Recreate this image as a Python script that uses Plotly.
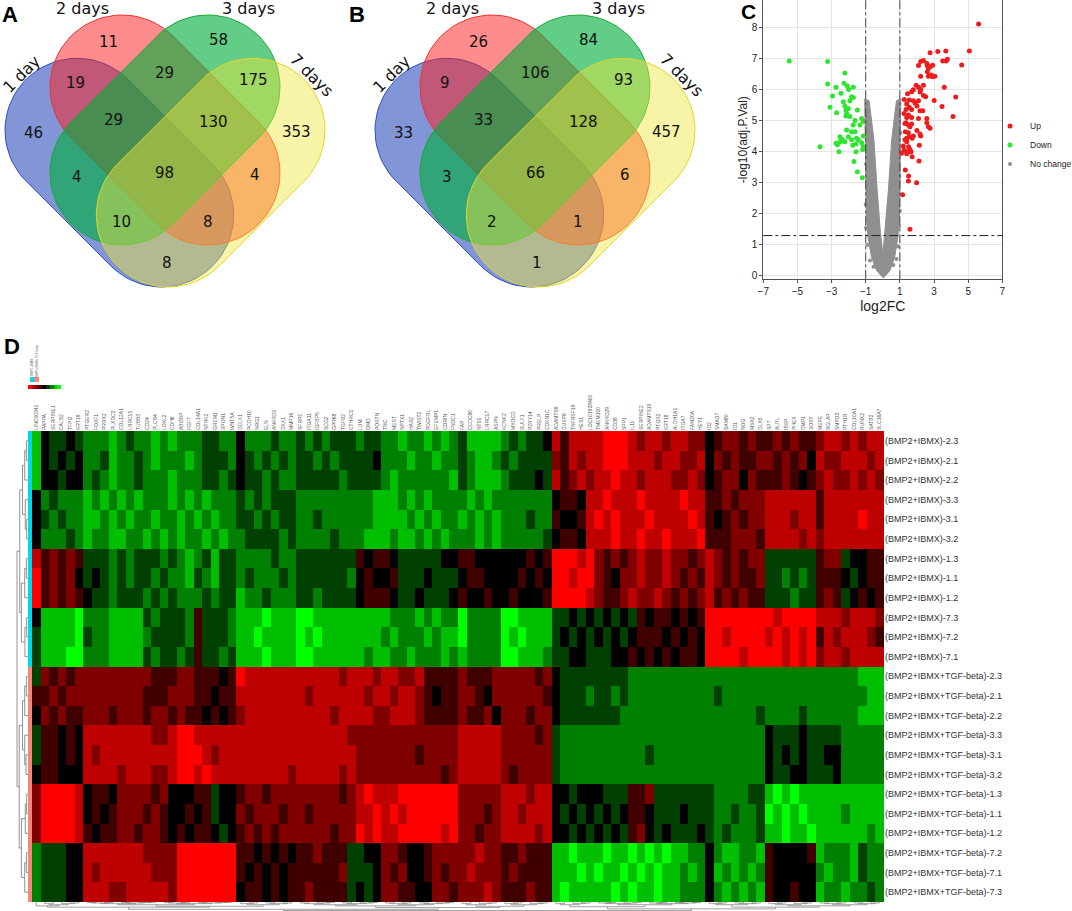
import numpy as np
import plotly.graph_objects as go

W, H = 1072, 911


def px_x(v):
    return v / W


def px_y(v):
    return 1 - v / H


# ---------------- Venn diagrams (A, B) ----------------
SET_NAMES = ["1 day", "2 days", "3 days", "7 days"]
REGIONS = ["1", "2", "3", "4", "12", "23", "34", "123", "234", "13", "1234", "24", "134", "124", "14"]
COUNTS_A = [46, 11, 58, 353, 19, 29, 175, 29, 130, 4, 98, 4, 10, 8, 8]
COUNTS_B = [33, 26, 84, 457, 9, 106, 93, 33, 128, 3, 66, 6, 2, 1, 1]

# ---------------- Volcano plot (C) ----------------
UP_X = [5.61, 5.07, 4.62, 4.27, 4.11, 3.47, 3.60, 3.01, 2.77, 3.22, 3.69, 3.51, 3.71, 3.78, 2.92,
        3.05, 2.92, 2.83, 2.67, 2.61, 2.77, 2.58, 2.67, 2.61, 2.38, 2.22, 2.09, 2.22, 2.38, 1.95,
        2.09, 2.22, 2.18, 1.69, 1.45, 1.26, 1.55, 1.79, 1.90, 2.09, 2.00, 1.55, 1.40, 1.36, 1.69,
        2.18, 2.34, 2.38, 2.58, 1.40, 1.69, 2.09, 1.36, 1.50, 1.30, 1.59, 1.69, 2.67, 2.58, 2.77,
        1.32, 1.50, 2.00, 1.79, 2.18, 2.22, 1.40, 1.55, 1.30, 1.72, 1.40, 1.20, 1.51, 2.14, 1.59,
        1.24, 1.40, 1.65, 1.10, 1.72, 1.40, 2.12, 1.32, 1.51, 1.50, 1.98, 1.16, 1.59, 1.24, 1.50,
        1.79, 2.51]
UP_Y = [8.11, 7.24, 6.79, 5.76, 5.13, 5.45, 6.07, 5.65, 7.18, 7.22, 7.24, 6.92, 6.92, 6.97, 6.78,
        6.43, 6.41, 6.47, 6.43, 6.57, 6.73, 6.84, 6.68, 6.77, 6.93, 6.90, 6.77, 6.43, 6.14, 6.14,
        6.07, 6.00, 5.92, 5.93, 5.86, 5.68, 5.66, 5.64, 5.56, 5.64, 5.47, 5.43, 5.53, 5.36, 5.36,
        5.32, 5.32, 5.81, 5.07, 5.10, 5.10, 5.07, 4.93, 4.86, 4.91, 4.80, 4.89, 4.80, 4.93, 4.75,
        4.64, 4.61, 4.68, 4.50, 4.57, 4.50, 4.43, 4.48, 4.38, 4.43, 4.32, 4.18, 4.16, 4.21, 4.07,
        4.05, 4.00, 4.00, 3.95, 3.84, 3.93, 3.70, 3.41, 3.22, 3.06, 3.00, 2.61, 1.50, 5.23, 5.18,
        5.99, 5.77]
DOWN_X = [-5.48, -3.23, -2.22, -3.23, -2.27, -2.08, -2.74, -1.73, -2.00, -2.94, -2.45, -1.83, -1.73, -3.09,
          -2.31, -1.93, -2.22, -2.02, -2.16, -1.49, -2.71, -2.12, -1.93, -2.16, -1.24, -1.63, -1.73, -1.34,
          -1.14, -2.12, -1.83, -1.63, -1.14, -2.02, -2.51, -2.41, -2.31, -2.51, -2.74, -1.83, -1.54, -1.44,
          -1.24, -1.14, -3.68, -2.66, -2.22, -1.57, -1.76, -1.18, -1.57, -2.57, -1.69, -1.49, -1.20]
DOWN_Y = [6.92, 6.90, 6.53, 6.18, 6.20, 6.11, 6.07, 6.07, 6.00, 5.79, 5.88, 5.77, 5.74, 5.43,
          5.61, 5.64, 5.47, 5.39, 5.34, 5.34, 5.25, 5.23, 5.13, 5.15, 5.07, 5.00, 4.86, 4.86,
          4.97, 4.70, 4.64, 4.64, 4.50, 4.48, 4.48, 4.40, 4.35, 4.32, 4.27, 4.38, 4.43, 4.38,
          4.29, 4.16, 4.16, 4.22, 4.32, 4.25, 4.21, 4.07, 4.00, 4.00, 3.68, 3.35, 3.16]
# dense cloud of non-significant genes (outline of the V shaped band)
NC_BAND_X = [-1.06, -1.02, -1.01, -0.96, -0.87, -0.66, -0.37, -0.08, 0.02, 0.12, 0.42, 0.70, 0.88,
             0.97, 1.01, 1.02, 1.06, 0.80, 0.52, 0.33, 0.15, 0.02, -0.02, -0.15, -0.33, -0.52, -0.80, -1.06]
NC_BAND_Y = [5.70, 4.40, 2.80, 1.90, 1.25, 0.60, 0.18, -0.02, -0.06, -0.02, 0.18, 0.60, 1.25,
             1.90, 2.80, 4.40, 5.70, 5.64, 4.38, 2.77, 1.48, 0.80, 0.80, 1.48, 2.77, 4.38, 5.64, 5.70]
NC_X = [-0.98, 0.95, -0.90, 0.90, -0.75, 0.80, 1.00, -1.00, 0.97, -0.98, 1.03, -1.03, 0.62, -0.55]
NC_Y = [1.55, 1.60, 1.00, 0.95, 0.50, 0.55, 2.10, 2.30, 3.20, 3.60, 4.60, 5.00, 0.35, 0.30]
FC_CUT = 1.0
P_CUT = 1.3

# ---------------- Heatmap (D) ----------------
ROW_LABELS = ["(BMP2+IBMX)-2.3", "(BMP2+IBMX)-2.1", "(BMP2+IBMX)-2.2",
              "(BMP2+IBMX)-3.3", "(BMP2+IBMX)-3.1", "(BMP2+IBMX)-3.2",
              "(BMP2+IBMX)-1.3", "(BMP2+IBMX)-1.1", "(BMP2+IBMX)-1.2",
              "(BMP2+IBMX)-7.3", "(BMP2+IBMX)-7.2", "(BMP2+IBMX)-7.1",
              "(BMP2+IBMX+TGF-beta)-2.3", "(BMP2+IBMX+TGF-beta)-2.1", "(BMP2+IBMX+TGF-beta)-2.2",
              "(BMP2+IBMX+TGF-beta)-3.3", "(BMP2+IBMX+TGF-beta)-3.1", "(BMP2+IBMX+TGF-beta)-3.2",
              "(BMP2+IBMX+TGF-beta)-1.3", "(BMP2+IBMX+TGF-beta)-1.1", "(BMP2+IBMX+TGF-beta)-1.2",
              "(BMP2+IBMX+TGF-beta)-7.2", "(BMP2+IBMX+TGF-beta)-7.1", "(BMP2+IBMX+TGF-beta)-7.3"]
ROW_GROUP = [0] * 12 + [1] * 12

GENES = ["LINC00341", "PAPPA", "SERPINE1", "CALB2", "TFPI2", "KRT19", "PTGER2", "FOXF1", "PRRX2", "PLXDC2",
         "COL12A1", "LRRC15", "TUBB3", "CD24", "PLCB4", "LOXL2", "CDH6", "ABI3BP", "FGF7", "COL14A1",
         "NTRK2", "GREM1", "SPON1", "WNT5A", "DCLK1", "PCDH10", "NRG1", "ELN", "ANKRD1", "DKK1",
         "MMP16", "SFRP2", "ITGA11", "IGFBP5", "SCG2", "GPR68", "TGFB2", "CTHRC1", "LUM", "OMD",
         "POSTN", "TNC", "MEST", "NPTX1", "HAS2", "TWIST2", "PDGFRL", "EFEMP1", "CORIN", "FNDC1",
         "FAP", "CCDC80", "NT5E", "LRRC17", "ASPN", "KCNK2", "MYOCD", "SULF1", "P2RY14", "PRELP",
         "CDKN1C", "ADAMTS9", "DUSP6", "TNFRSF19", "HES1", "LOC101928400", "TMEM100", "ANKRD29", "CD36", "SPP1",
         "IL11", "SERPINE2", "ADAMTS15", "PTGS2", "KRT18", "ALDH1A1", "ITGA7", "FAM20A", "HEY1", "ID2",
         "SMAD7", "BAMBI", "ID1", "NOG", "MSX2", "DLX5", "SP7", "ALPL", "IBSP", "PHEX",
         "DMP1", "SOST", "MEPE", "BGLAP", "SMPD3", "PTH1R", "COL10A1", "RUNX2", "SATB2", "SLC16A7"]

# expression level per cell, 0 = strongest green ... 4 = black ... 8 = strongest red
HEAT_ROWS = [
    "1 43343 222123221212223322 4222322 3232333233 221221212 31111 232334 75777 7888767767766 4566565 565655 67767677",
    "1 43434 223122321222123332 4323232 3323233334 222122122 32112 323333 65767 7888777677667 4656556 656564 76677767",
    "1 44344 232122322212223323 4332322 3333323333 212222221 32111 233343 75676 7787767776676 4566465 556545 67667676",
    "4 23222 121212122212121222 3232333 2222222221 112121222 21212 222222 45547 7877787777877 5565666 777777 57777777",
    "4 32322 112121221221212122 3323233 2232222221 111212122 12121 222322 54457 8787778777787 5456566 777677 57777877",
    "4 22232 122112212121221212 2333323 2222322211 121121212 22121 222223 45547 7787787787778 5556665 777767 67777777",
    "7 56565 333232333232123133 2222322 3333333545 543333344 55444 444545 88878 6565676676656 7656566 333333 56634455",
    "8 56564 343232332322132133 2322232 3333332454 453334333 45544 445454 88788 6546676676565 7656556 332323 55543455",
    "8 56565 433233323232223233 1223222 3323333455 543343334 54454 454445 88887 6556766765656 7565655 333233 56534545",
    "4 11110 222111132333253332 1110111 0011111111 122212122 02222 001111 33434 3434354554545 8888888 878888 77767776",
    "3 11110 322111123333253332 1101111 0101111111 212221211 02222 010111 34343 4343455545454 8878888 787878 57677765",
    "3 11100 222111132332353323 1110111 0011111121 122122212 12222 001112 33443 3344545454554 8888788 887878 67767777",
    "3 65656 666666665556655545 8777777 7777767776 776675555 65556 666656 43333 3333222222222 2222222 222222 22222111",
    "5 56566 666666655566655455 7777777 7677777767 767765455 66546 666665 43332 3323222222222 2322222 222222 22222211",
    "4 65655 666566656656554545 6777777 7777677776 677765555 65564 666566 43333 3332222222222 2222223 222232 22222111",
    "3 55454 777777776678877777 7777777 7777776666 666666666 77777 666656 32222 2222222222222 2222222 433343 33322222",
    "3 55454 767777777778887677 7777777 7777777666 666656666 77777 666666 32222 2222223222222 2222222 434343 34422222",
    "4 55444 777767776678878777 7777776 7777767666 666666656 77777 656666 32222 2222222222222 2222222 433443 33422222",
    "6 88887 455466665644455344 5665666 6666656787 778888888 66666 777677 44344 4333556333333 3222233 101011 11111111",
    "6 88887 454566656544545344 6566656 6566666778 787888888 66656 776777 43434 3434554333433 3223223 010101 11121111",
    "6 88887 545566566545455434 5656566 6666566878 778888878 66566 777767 44343 4343564343334 3232223 110110 11111121",
    "2 33344 777777766668888888 5545454 5565553344 665445666 66766 556555 11011 1011010101122 4211221 544445 12221322",
    "2 33344 767777776668888888 5454545 5555563334 656445656 67666 565555 11101 0110101011212 4121212 544444 21221322",
    "2 33344 777667777768888888 4554545 5655553434 665544665 66676 555655 10111 1101011011222 4212121 544544 12212232",
]
KEY_LEVELS = [4, 3, 2, 1, 0, -1, -2, -3, -4]

# ---------------- helpers ----------------


def capsule(p1, p2, r, n=40):
    p1 = np.asarray(p1, float)
    p2 = np.asarray(p2, float)
    d = p2 - p1
    ang = np.arctan2(d[1], d[0])
    t2 = np.linspace(ang - np.pi / 2, ang + np.pi / 2, n)
    t1 = np.linspace(ang + np.pi / 2, ang + 3 * np.pi / 2, n)
    xs = np.concatenate([p2[0] + r * np.cos(t2), p1[0] + r * np.cos(t1)])
    ys = np.concatenate([p2[1] + r * np.sin(t2), p1[1] + r * np.sin(t1)])
    return list(xs) + [xs[0]], list(ys) + [ys[0]]


def walk(node, segs):
    if isinstance(node, int):
        return float(node), 0.0
    h, left, right = node
    pl, hl = walk(left, segs)
    pr, hr = walk(right, segs)
    segs.append(((pl, hl), (pl, h), (pr, h), (pr, hr)))
    return (pl + pr) / 2, h


def block_tree(cols, h):
    if len(cols) == 1:
        return cols[0]
    m = len(cols) // 2
    return (h, block_tree(cols[:m], h * 0.6), block_tree(cols[m:], h * 0.6))


def note(x, y, text, size, family="DejaVu Sans", angle=0, color="#111"):
    return dict(x=px_x(x), y=px_y(y), xref="paper", yref="paper", text=text, textangle=angle,
                xanchor="center", yanchor="middle", showarrow=False,
                font=dict(family=family, size=size, color=color))


fig = go.Figure()

# Venn capsules drawn on a pixel canvas (x7/y7)
VENN_COLORS = [("rgba(5,45,175,0.5)", "#2a4fc0"), ("rgba(255,25,25,0.5)", "#f03030"),
               ("rgba(0,175,60,0.62)", "#18a83a"), ("rgba(240,230,60,0.45)", "#e0d62a")]
R = 72
CAPS = [((-88, 130.3), (-3.3, 215)), ((-43, 87), (43, 173)), ((43, 87), (-43, 173)), ((88, 130.3), (3.3, 215))]
REGION_POS = {"1": (-131.7, 133.3), "2": (-56.7, 41.7), "3": (53.3, 40), "4": (131.7, 131.7),
              "12": (-90, 83.3), "23": (0, 73.3), "34": (88.3, 80), "123": (-51.7, 120), "234": (48.3, 121.7),
              "13": (-88.3, 176.7), "1234": (0, 173.3), "24": (90, 175), "134": (-43.3, 221.7),
              "124": (43.3, 221.7), "14": (1.7, 263.3)}
LABEL_POS = [(-144, 74, -45), (-83, 9, 0), (83, 9, 0), (146, 75, 45)]

annotations = []
for cx, counts, letter, lx in [(165, COUNTS_A, "A", 10), (535, COUNTS_B, "B", 357)]:
    for (p1, p2), (fc, lc) in zip(CAPS, VENN_COLORS):
        xs, ys = capsule((cx + p1[0], p1[1]), (cx + p2[0], p2[1]), R)
        fig.add_trace(go.Scatter(x=xs, y=ys, mode="lines", fill="toself", fillcolor=fc,
                                 line=dict(color=lc, width=1), hoverinfo="skip", showlegend=False,
                                 xaxis="x7", yaxis="y7"))
    for reg, c in zip(REGIONS, counts):
        ox, oy = REGION_POS[reg]
        annotations.append(note(cx + ox, oy, str(c), 15))
    for name, (ox, oy, ang) in zip(SET_NAMES, LABEL_POS):
        annotations.append(note(cx + ox, oy, name, 16, angle=ang))
    annotations.append(note(lx, 14, "<b>%s</b>" % letter, 22, "Liberation Sans", color="black"))

# Volcano
fig.add_trace(go.Scatter(x=NC_BAND_X, y=NC_BAND_Y, mode="lines", fill="toself", fillcolor="#8f8f8f",
                         line=dict(color="#8f8f8f", width=1), hoverinfo="skip", showlegend=False))
fig.add_trace(go.Scatter(x=UP_X, y=UP_Y, mode="markers", name="Up",
                         marker=dict(color="#ee1c1c", size=5)))
fig.add_trace(go.Scatter(x=DOWN_X, y=DOWN_Y, mode="markers", name="Down",
                         marker=dict(color="#2ee62e", size=5)))
fig.add_trace(go.Scatter(x=NC_X, y=NC_Y, mode="markers", name="No change",
                         marker=dict(color="#8f8f8f", size=4)))

shapes = []
for xv in (-FC_CUT, FC_CUT):
    shapes.append(dict(type="line", xref="x", yref="y domain", x0=xv, x1=xv, y0=0, y1=1,
                       line=dict(color="#444", width=1, dash="dashdot")))
shapes.append(dict(type="line", xref="x domain", yref="y", x0=0, x1=1, y0=P_CUT, y1=P_CUT,
                   line=dict(color="#222", width=1, dash="dashdot")))
annotations.append(note(748, 11, "<b>C</b>", 21, "Liberation Sans", color="black"))

# Heatmap
Z = []
for s in HEAT_ROWS:
    vals = [int(ch) - 4 for ch in s.replace(" ", "")]
    assert len(vals) == len(GENES), (len(vals), s)
    Z.append(vals)
n_rows, n_cols = len(Z), len(GENES)
col_idx = list(range(n_cols))
row_idx = list(range(n_rows))
RGB_SCALE = [[0, "rgb(0,255,0)"], [0.5, "rgb(0,0,0)"], [1, "rgb(255,0,0)"]]
fig.add_trace(go.Heatmap(z=Z, x=col_idx, y=row_idx, colorscale=RGB_SCALE, zmin=-4, zmax=4,
                         showscale=False, xaxis="x2", yaxis="y2", hoverinfo="skip"))
fig.add_trace(go.Heatmap(z=[[g] for g in ROW_GROUP], x=[0], y=row_idx, zmin=0, zmax=1,
                         colorscale=[[0, "#00d8e8"], [1, "#f4877c"]], showscale=False,
                         xaxis="x3", yaxis="y3", hoverinfo="skip"))
fig.add_trace(go.Heatmap(z=[KEY_LEVELS], colorscale=RGB_SCALE, zmin=-4, zmax=4, showscale=False,
                         xaxis="x6", yaxis="y6", hoverinfo="skip"))

# row dendrogram
grp = lambda a, b, c, h1, h2, pair_first=True: (h2, (h1, a, b), c) if pair_first else (h2, a, (h1, b, c))
row_tree = (1.0,
            (0.75, (0.5, grp(0, 1, 2, 0.15, 0.3), grp(3, 4, 5, 0.12, 0.25, False)),
             (0.6, grp(6, 7, 8, 0.15, 0.3), grp(9, 10, 11, 0.12, 0.28))),
            (0.8, (0.5, grp(12, 13, 14, 0.15, 0.3), grp(15, 16, 17, 0.18, 0.3, False)),
             (0.6, grp(18, 19, 20, 0.12, 0.25), grp(21, 22, 23, 0.15, 0.3))))
segs = []
walk(row_tree, segs)
dx_, dy_ = [], []
for seg in segs:
    for p, h in seg:
        dx_.append(h)
        dy_.append(p)
    dx_.append(None)
    dy_.append(None)
fig.add_trace(go.Scatter(x=dx_, y=dy_, mode="lines", line=dict(color="#777", width=0.8),
                         hoverinfo="skip", showlegend=False, xaxis="x4", yaxis="y4"))

# column dendrogram
SEG_LEN = [1, 5, 18, 7, 10, 9, 5, 6, 5, 13, 7, 6, 8]
bounds = np.cumsum([0] + SEG_LEN)
S = [block_tree(list(range(int(bounds[i]), int(bounds[i + 1]))), 0.32) for i in range(len(SEG_LEN))]
col_tree = (1.0,
            (0.85, (0.6, (0.45, S[0], S[1]), (0.5, S[2], S[3])), (0.65, (0.45, S[4], S[5]), (0.5, S[6], S[7]))),
            (0.8, (0.55, S[8], S[9]), (0.6, S[10], (0.45, S[11], S[12]))))
segs = []
walk(col_tree, segs)
cx_, cy_ = [], []
for seg in segs:
    for p, h in seg:
        cx_.append(p)
        cy_.append(h)
    cx_.append(None)
    cy_.append(None)
fig.add_trace(go.Scatter(x=cx_, y=cy_, mode="lines", line=dict(color="#777", width=0.7),
                         hoverinfo="skip", showlegend=False, xaxis="x5", yaxis="y5"))

annotations.append(note(12, 346, "<b>D</b>", 22, "Liberation Sans", color="black"))
for xpos, ypos, txt in [(32, 368, "BMP2+IBMX"), (36.5, 362, "BMP2+IBMX+TGF-beta")]:
    annotations.append(note(xpos, ypos, txt, 3, "Liberation Sans", angle=-90, color="#666"))
shapes.append(dict(type="rect", xref="paper", yref="paper", x0=px_x(30), x1=px_x(34), y0=px_y(382),
                   y1=px_y(377), fillcolor="#00d8e8", line=dict(width=0)))
shapes.append(dict(type="rect", xref="paper", yref="paper", x0=px_x(34), x1=px_x(39), y0=px_y(382),
                   y1=px_y(377), fillcolor="#f4877c", line=dict(width=0)))


def hidden(domain, rng=None):
    d = dict(domain=domain, showgrid=False, zeroline=False, showticklabels=False, ticks="",
             showline=False, fixedrange=True)
    if rng is not None:
        d["range"] = rng
    return d


hm_x = [px_x(32), px_x(884)]
hm_y = [px_y(902), px_y(431)]
axis_font = dict(family="Liberation Sans", size=10, color="#222")

fig.update_layout(
    width=W, height=H, margin=dict(l=0, r=0, t=0, b=0, pad=0, autoexpand=False),
    paper_bgcolor="white", plot_bgcolor="rgba(0,0,0,0)",
    annotations=annotations, shapes=shapes,
    xaxis=dict(domain=[px_x(763.3), px_x(1002.3)], range=[-7, 7], tickvals=[-7, -5, -3, -1, 1, 3, 5, 7],
               showgrid=True, gridcolor="#e4e4e4", zeroline=False, showline=True, mirror=True,
               linecolor="#555", ticks="outside", ticklen=3, tickcolor="#555", tickfont=axis_font,
               title=dict(text="log2FC", font=dict(family="Liberation Sans", size=14, color="#222"), standoff=4)),
    yaxis=dict(domain=[px_y(279.3), 1], range=[-0.107, 8.88], tickvals=list(range(9)),
               showgrid=True, gridcolor="#e4e4e4", zeroline=False, showline=True, mirror=True,
               linecolor="#555", ticks="outside", ticklen=3, tickcolor="#555", tickfont=axis_font,
               title=dict(text="-log10(adj.P.Val)", font=dict(family="Liberation Sans", size=12, color="#222"),
                          standoff=1)),
    xaxis2=dict(domain=hm_x, range=[-0.5, n_cols - 0.5], side="top", tickmode="array", tickvals=col_idx,
                ticktext=GENES, tickangle=-90, tickfont=dict(family="Liberation Sans", size=5, color="#555"),
                ticks="", showgrid=False, zeroline=False, anchor="y2", fixedrange=True),
    yaxis2=dict(domain=hm_y, range=[n_rows - 0.5, -0.5], side="right", tickmode="array", tickvals=row_idx,
                ticktext=ROW_LABELS, tickfont=dict(family="Liberation Sans", size=9, color="#333"),
                ticks="", showgrid=False, zeroline=False, anchor="x2", fixedrange=True),
    xaxis3=dict(hidden([px_x(28), px_x(32)], [-0.5, 0.5]), anchor="y3"),
    yaxis3=dict(hidden(hm_y, [n_rows - 0.5, -0.5]), anchor="x3"),
    xaxis4=dict(hidden([0, px_x(28)], [2.55, 0]), anchor="y4"),
    yaxis4=dict(hidden(hm_y, [n_rows - 0.5, -0.5]), anchor="x4"),
    xaxis5=dict(hidden(hm_x, [-0.5, n_cols - 0.5]), anchor="y5"),
    yaxis5=dict(hidden([0, px_y(902)], [1.05, 0]), anchor="x5"),
    xaxis6=dict(hidden([px_x(28), px_x(61)]), anchor="y6"),
    yaxis6=dict(hidden([px_y(389), px_y(385)]), anchor="x6"),
    xaxis7=dict(hidden([0, 1], [0, W]), anchor="y7"),
    yaxis7=dict(hidden([0, 1], [H, 0]), anchor="x7"),
    legend=dict(x=px_x(990), y=px_y(145), xanchor="left", yanchor="middle", bgcolor="rgba(0,0,0,0)",
                font=dict(family="Liberation Sans", size=8.5, color="#222"), itemwidth=30,
                tracegroupgap=0),
)

fig.write_html("out.html", config={"displayModeBar": False},
               post_script="document.body.style.margin='0px';")
